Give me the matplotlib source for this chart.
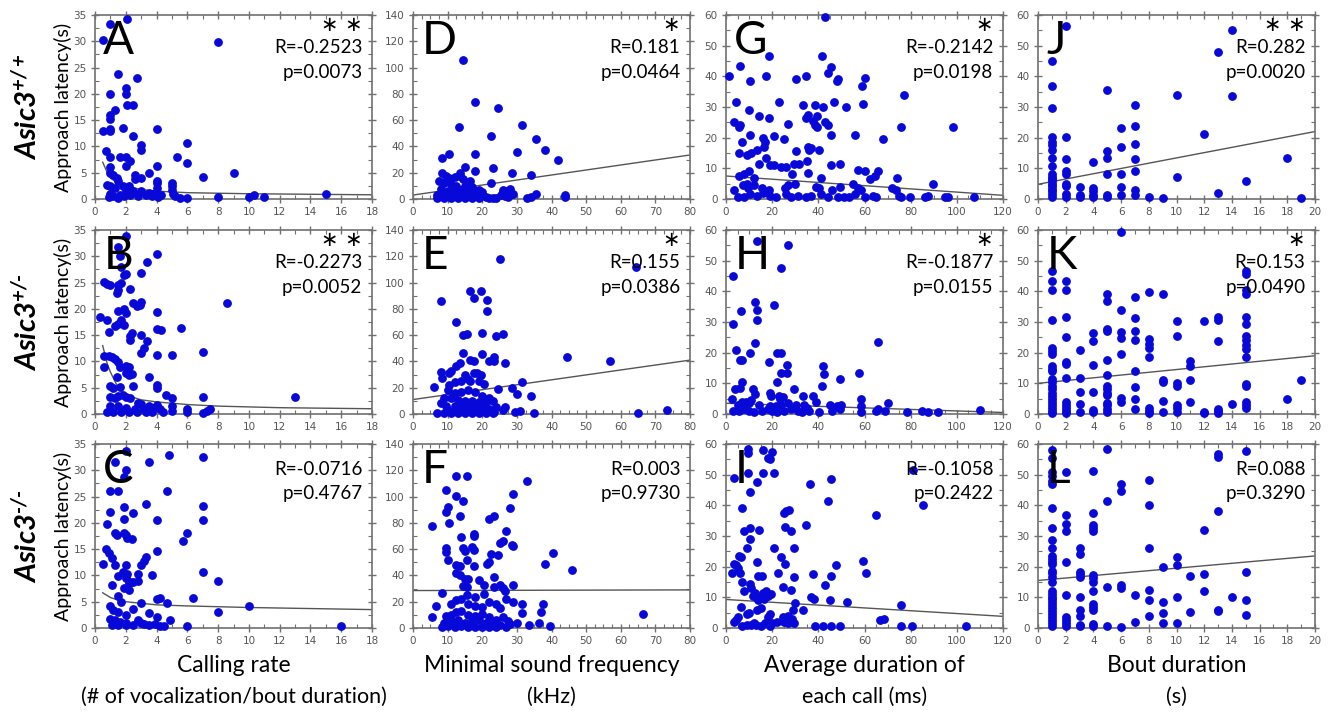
import matplotlib.pyplot as plt
from matplotlib.ticker import MultipleLocator, AutoMinorLocator

plt.rcParams['font.family'] = ['Lato', 'DejaVu Sans']
plt.rcParams['mathtext.fontset'] = 'custom'
plt.rcParams['mathtext.rm'] = 'Lato'
plt.rcParams['mathtext.it'] = 'Lato:italic'
plt.rcParams['mathtext.bf'] = 'Lato:bold'
plt.rcParams['mathtext.bfit'] = 'Lato:italic:bold'

# ---- data: (x, latency) pairs per panel ----
pts_A = [(0.5, 30.2), (2.1, 34.2), (1.0, 33.3), (8.0, 29.8), (1.5, 23.7), (2.7, 23.0), (1.0, 20), (2.0, 21.2),
         (2.0, 20), (2.1, 17.9), (2.5, 17.9), (1.3, 17.0), (1.0, 16.0), (1.0, 15.2), (0.5, 13), (1.0, 13.3),
         (1.0, 13.0), (1.8, 13.5), (2.5, 12), (3.0, 10.3), (3.0, 9.3), (0.7, 9.2), (4.0, 13.4), (6.0, 10.6),
         (6.0, 6.8), (5.3, 8.0), (4.0, 6.3), (7.0, 4.2), (9.0, 5.0), (1.0, 8), (1.6, 8), (2.0, 8), (1.0, 6),
         (2.0, 6.3), (2.3, 7.2), (2.6, 4.6), (2.6, 3.8), (3.0, 4.0), (3.5, 5.0), (1.0, 5), (1.2, 4.5), (1.4, 4),
         (1.5, 3.5), (0.8, 2.7), (1.0, 2.5), (1.3, 2.0), (1.8, 2.4), (2.2, 2.5), (2.0, 1.5), (2.5, 1.5),
         (3.0, 1.5), (1.0, 1.0), (1.2, 0.5), (1.6, 0.8), (1.9, 0.5), (2.3, 0.8), (2.8, 0.5), (3.3, 0.8),
         (3.7, 0.5), (4.0, 1.0), (4.0, 3.0), (4.0, 3.5), (4.0, 2.0), (4.3, 0.7), (4.1, 0.3), (5.0, 3.0),
         (5.0, 2.5), (5.0, 1.8), (5.1, 1.0), (5.2, 0.5), (5.5, 0.2), (6.0, 0.2), (8.0, 0.3), (10.0, 0.3),
         (10.3, 0.8), (11.0, 0.3), (15.0, 1.0), (0.9, 0.3), (1.5, 0.2), (3.5, 1.2), (3.8, 0.9), (2.2, 1.2),
         (2.4, 1.1)]
pts_B = [(2.0, 33.8), (1.5, 31.8), (1.6, 30), (1.7, 28), (4.0, 30.4), (3.4, 29.0), (3.0, 26.8), (1.9, 26.5),
         (2.0, 26.7), (0.6, 25.2), (0.8, 24.8), (1.0, 24.6), (1.5, 24.6), (1.7, 25), (1.5, 23.5), (1.4, 23),
         (2.3, 23.8), (2.5, 21.2), (3.0, 21.3), (2.9, 20.8), (2.7, 20.6), (1.9, 20), (2.0, 19.3), (1.5, 19.5),
         (0.3, 18.5), (0.8, 17.8), (1.7, 17.8), (1.9, 17), (1.5, 17.2), (1.3, 16.7), (4.0, 19.4), (4.0, 16.1),
         (4.3, 15.9), (5.6, 16.3), (0.9, 15.6), (2.4, 15.5), (2.3, 14.8), (2.3, 14.1), (3.0, 15.1), (3.4, 13.9),
         (3.2, 12.5), (3.0, 11.6), (4.0, 11.2), (5.0, 11.3), (7.0, 11.7), (8.6, 21.1), (0.6, 11.1), (0.9, 11),
         (1.1, 10.9), (1.3, 10.5), (1.5, 9.8), (0.6, 9.0), (1.6, 9.0), (2.0, 9.1), (2.2, 8.9), (2.0, 7.8),
         (2.2, 7.4), (2.4, 7.6), (1.4, 7), (1.0, 5.3), (1.2, 5.0), (1.6, 5.2), (2.5, 5.3), (3.5, 7.1), (4.0, 5.6),
         (4.0, 5.0), (4.6, 3.7), (5.0, 3.0), (7.0, 3.3), (13.0, 3.3), (1.0, 3.2), (1.3, 3.0), (1.5, 3.5),
         (1.8, 3.6), (2.0, 3.2), (2.3, 3.0), (2.8, 2.0), (3.0, 1.9), (3.5, 1.5), (1.0, 1.5), (1.5, 1.6),
         (2.0, 1.2), (2.6, 1.0), (3.2, 1.0), (3.8, 1.2), (4.0, 1.8), (4.2, 1.0), (5.0, 1.5), (5.0, 0.5),
         (6.0, 1.0), (6.0, 0.3), (7.0, 0.2), (7.3, 0.6), (7.5, 1.0), (0.8, 0.3), (1.2, 0.4), (1.7, 0.3),
         (2.2, 0.3), (2.7, 0.3), (3.3, 0.3), (3.7, 0.3), (4.4, 0.3)]
pts_C = [(2.0, 33.6), (4.8, 33.0), (7.0, 32.5), (3.5, 31.6), (1.3, 31.6), (1.0, 26), (1.5, 26), (1.9, 28.7),
         (2.0, 30), (4.7, 26), (3.3, 23.5), (7.0, 23.2), (1.0, 22.1), (1.9, 23), (2.5, 21.8), (1.9, 20.8),
         (4.0, 20.6), (7.0, 20.5), (0.8, 19.8), (1.3, 18), (1.4, 17.7), (1.9, 18), (2.0, 17.6), (2.1, 17.2),
         (2.4, 17), (5.7, 16.6), (6.0, 18), (0.7, 15), (0.9, 14.3), (1.1, 13.4), (0.5, 12.2), (1.3, 11.9),
         (2.0, 12), (3.3, 13.6), (3.2, 12.8), (3.0, 12), (4.0, 14.7), (1.8, 10.6), (2.1, 10.2), (2.8, 10.2),
         (3.7, 10.0), (7.0, 10.6), (1.1, 8.1), (1.5, 9.8), (2.0, 9.5), (2.3, 8.8), (2.2, 8.5), (2.5, 8.8),
         (2.8, 9.0), (8.0, 9.0), (1.9, 7.6), (2.2, 7.2), (1.5, 6.0), (1.7, 5.0), (3.0, 4.8), (4.0, 5.6),
         (4.2, 5.7), (4.7, 4.8), (6.4, 5.7), (10.0, 4.1), (8.0, 3.0), (1.0, 4.1), (1.2, 3.5), (1.5, 3.0),
         (2.0, 2.4), (2.5, 3.6), (3.5, 2.8), (4.0, 2.0), (4.9, 1.5), (1.0, 1.8), (1.3, 1.5), (1.6, 1.2),
         (2.0, 1.0), (2.8, 1.5), (3.0, 1.0), (3.2, 0.8), (3.5, 0.6), (3.9, 0.8), (4.2, 0.3), (4.5, 0.3),
         (6.0, 0.4), (16.0, 0.3), (1.1, 0.5), (1.5, 0.5), (2.0, 0.5), (2.5, 0.6)]
pts_D = [(14.5, 105.5), (18, 73.5), (24.5, 69.5), (13.3, 55), (31.5, 56.5), (22.5, 48), (35.5, 45.5), (38, 37.5),
         (30, 36), (42, 30), (10.5, 34.5), (8.5, 31), (18, 34), (23, 23.5), (15, 24.5), (18, 21.5), (28.5, 20),
         (34, 18.5), (22.5, 12), (8.5, 20), (9.5, 17.5), (10.5, 16), (12, 17), (13.5, 20), (13.5, 17.5),
         (14.5, 15.5), (16.5, 13.5), (7.5, 13.5), (9, 12), (11, 11.5), (12.5, 10), (15, 10), (17, 9), (19, 6.5),
         (8, 7.5), (10, 6), (12, 6), (14, 7), (16, 5), (18, 4), (20, 5), (7, 3), (9, 3), (11, 3), (13, 2.5),
         (15, 2.5), (17, 2), (19, 2.5), (21, 1.5), (22, 1), (23, 0.8), (24, 0.8), (7, 0.8), (9, 0.8), (11, 0.8),
         (13, 0.8), (15, 0.8), (17, 0.8), (19, 0.8), (26, 7), (27, 6), (28, 7.5), (26, 5), (27, 4), (28.5, 3.5),
         (25.5, 3), (26.5, 2), (27.5, 1.5), (29, 4), (33, 0.8), (34, 1.5), (35.5, 3.5), (44, 3), (44, 1.5)]
pts_E = [(25, 118), (64.5, 111.5), (8, 86), (16.5, 93.5), (19.5, 93.5), (17.5, 88), (21.5, 87), (21.5, 78),
         (12.5, 70), (14.5, 60), (15.5, 61), (20, 61.5), (24, 59.5), (26, 60.5), (14.5, 46.5), (20, 46),
         (16.5, 41), (17.5, 40.5), (22, 40), (23.5, 43), (23.5, 40), (26.5, 39), (44.5, 43), (57, 40),
         (13.5, 38.5), (12.5, 36.5), (8, 32), (8.5, 27.5), (10.5, 31), (11, 33), (15, 30), (17.5, 31),
         (18.5, 31), (19.5, 29.5), (16, 27), (12, 24), (10.5, 22), (14, 25), (16.5, 25), (19, 25), (20.5, 23),
         (24.5, 19), (28.5, 19.5), (30, 15.5), (31.5, 24.5), (34, 14), (6, 20.5), (10, 18), (12, 16), (14, 17),
         (16, 18), (18, 17), (20, 14), (22, 12), (23, 10), (9, 12), (11, 12), (13, 11), (15, 10), (17, 10),
         (19, 9), (21, 9), (8, 8), (9.5, 6), (12, 6), (14, 5), (16, 5), (18, 6), (20, 5), (22, 4), (24, 5),
         (26.5, 5), (26, 3), (10, 3), (12, 2), (14, 2.5), (16, 2), (18, 2), (20, 2), (22, 2), (23.5, 1.5),
         (7, 1), (9, 1), (11, 1), (13, 1), (15, 1), (17, 1), (19, 1), (21, 1), (23, 0.8), (29.5, 1.5), (31, 2),
         (35, 0.8), (65, 0.8), (73.5, 3)]
pts_F = [(12.5, 116), (15.5, 115.5), (33, 112), (9.5, 105), (12.5, 100.5), (14.5, 97), (29, 102), (10, 92),
         (9.5, 88.5), (13.5, 85), (22, 83), (23.5, 85.5), (28, 91.5), (5.5, 77.5), (10.5, 80), (27, 74),
         (17.5, 71.5), (17.5, 70), (14, 69.5), (26, 66.5), (25, 64.5), (28.5, 63), (29, 62.5), (9.5, 60.5),
         (9.5, 58), (14.5, 60.5), (15, 58.5), (17, 62), (17.5, 59), (22.5, 56), (24.5, 55.5), (40.5, 57),
         (10, 51.5), (15.5, 51.5), (22, 50.5), (21.5, 49), (38, 49), (46, 44.5), (12.5, 48), (13.5, 47),
         (17.5, 47.5), (12.5, 41.5), (13.5, 40), (15, 37.5), (16, 37), (19, 36.5), (23.5, 38.5), (20.5, 33),
         (14.5, 32), (15.5, 31.5), (23.5, 31), (25, 33), (26, 30.5), (29, 32.5), (26.5, 28), (8.5, 26.5),
         (15.5, 25), (18, 23.5), (20.5, 25.5), (6.5, 17), (11, 18), (12.5, 21), (14, 22), (16, 18), (18, 17),
         (20, 16), (22, 20), (24, 18), (25, 15), (27, 22), (29, 20), (31.5, 18.5), (31.5, 11.5), (37.5, 18.5),
         (37, 12), (5.5, 8.5), (9.5, 9), (11, 10), (12.5, 12), (14, 13), (16, 10), (18, 9), (20, 11), (22, 8),
         (24, 6), (26, 8), (27.5, 5.5), (9, 4), (11, 5), (13, 6), (15, 4), (17, 5), (19, 6), (21, 4), (23, 3),
         (25, 2.5), (28, 3), (30, 3.5), (33.5, 2.5), (36.5, 3.5), (39.5, 1.5), (8.5, 1), (10, 1.5), (12, 1),
         (14, 1.5), (16, 1), (18, 1), (20, 1), (22, 1), (24, 1), (27, 1), (66.5, 10.5)]
pts_G = [(43, 59.5), (18.5, 46.5), (41.5, 46.5), (6, 43.5), (45.5, 43), (44, 41), (1.5, 40), (17.5, 40),
         (34.5, 40), (10.5, 38.5), (30.5, 39), (48, 38.5), (48.5, 39), (60, 39.5), (59, 37), (77, 34),
         (4.5, 31.5), (23, 31.5), (33.5, 30.5), (38.5, 30.5), (42, 30), (47, 31.5), (52, 30), (59.5, 31),
         (10, 29), (14.5, 27), (18.5, 26.5), (34.5, 26.5), (35.5, 27.5), (39.5, 27), (37.5, 25.5), (38.5, 24),
         (39.5, 23.5), (43, 25), (44, 24), (3.5, 25), (5.5, 23.5), (6, 24), (27, 24.5), (76, 23.5), (98.5, 23.5),
         (10.5, 21), (16, 20), (21, 20.5), (17, 18.5), (7, 18.5), (25, 19.5), (45.5, 21), (56, 21), (68, 19.5),
         (16.5, 17), (35.5, 17), (36, 16), (37, 16.5), (40.5, 16), (5.5, 15), (9, 14.5), (11, 15), (13.5, 16),
         (17.5, 13.5), (30.5, 15.5), (35, 12.5), (14.5, 11.5), (19, 11), (21, 11), (24, 10.5), (26, 10.5),
         (29.5, 11.5), (31.5, 11.5), (35.5, 8.5), (45.5, 11), (49.5, 11.5), (57, 9.5), (60, 9), (66, 9), (8, 8),
         (10, 9), (5.5, 7.5), (12, 7), (28.5, 8), (41, 7), (64.5, 7.5), (62.5, 6.5), (74, 7), (9, 5), (12, 4.5),
         (7.5, 4.5), (9.5, 3.5), (15.5, 3.5), (18.5, 3), (25.5, 3.5), (27, 4.5), (30, 5), (39, 4), (40.5, 3.5),
         (46, 3), (49.5, 4), (55, 5), (57, 3.5), (58.5, 3), (72, 3.5), (73.5, 3), (89.5, 5), (3.5, 3), (5, 0.5),
         (8, 0.5), (10.5, 1.5), (13.5, 1), (16, 2), (19, 1), (21.5, 0.5), (26, 1.5), (28, 0.5), (31, 1),
         (34.5, 0.5), (37, 1), (41, 1.5), (44, 0.5), (48.5, 0.5), (51, 0.5), (53.5, 0.5), (56, 1.5), (60, 0.5),
         (63.5, 1), (65, 0.5), (75, 1), (76, 0.5), (79.5, 0.5), (86, 0.5), (87.5, 1), (95, 0.5), (96, 0.5),
         (107.5, 0.5)]
pts_H = [(27, 55), (13.5, 56.5), (24, 47.5), (3, 45), (12.5, 36.5), (13.5, 34), (21, 35.5), (6.5, 33.5),
         (13.5, 30.5), (3, 29.5), (12.5, 23), (66, 23.5), (4.5, 21), (6, 17.5), (7, 17.5), (10.5, 20),
         (18.5, 17), (22, 20), (24, 20), (26.5, 16), (24, 13.5), (26.5, 13.5), (42, 15.5), (42.5, 13),
         (57.5, 13.5), (49.5, 11.5), (41.5, 9), (22, 10.5), (29.5, 8), (7, 10.5), (4, 8), (6, 8.5), (11.5, 8),
         (12.5, 6.5), (19, 7), (19.5, 6), (23, 6), (23.5, 5), (24.5, 5.5), (33.5, 6), (37.5, 6), (39, 4),
         (58.5, 5), (2.5, 5), (5, 3), (7, 4), (8.5, 4), (10, 3.5), (11, 4.5), (14.5, 3), (19, 2.5), (21.5, 2.5),
         (24, 3), (27, 3.5), (30.5, 3), (34, 3), (35, 2), (45, 3), (48, 2.5), (50, 3), (58.5, 2.5), (66, 1.5),
         (70, 3.5), (3, 1), (5.5, 1), (8, 1.5), (10, 1), (12, 0.5), (15.5, 1), (18, 1.5), (20, 1), (22, 0.5),
         (25, 1), (28, 1.5), (31, 1), (33, 0.5), (36, 1), (40.5, 0.5), (46, 1), (49.5, 1.5), (58.5, 0.5),
         (65, 1), (69, 1), (78.5, 0.5), (85, 1), (87.5, 0.5), (92, 0.5), (110, 1.2)]
pts_I = [(9.5, 58.5), (9.5, 57), (16, 58), (20, 57.5), (18, 55.5), (19, 55), (9.5, 50.5), (3.5, 49), (16, 50.5),
         (21, 50.5), (13.5, 47.5), (10.5, 44.5), (45.5, 48.5), (81, 51.5), (36.5, 47), (44, 41.5), (85.5, 40),
         (7, 39), (25, 37.5), (26, 38), (27.5, 38.5), (25.5, 33), (34.5, 33.5), (65, 37), (8, 31.5),
         (10.5, 32.5), (14.5, 32), (28, 31.5), (10.5, 29), (9, 26), (21, 26), (29.5, 26), (5.5, 23.5),
         (6.5, 23), (24, 23), (3.5, 21), (4.5, 20.5), (5, 19.5), (6, 18), (2.5, 18), (25.5, 21), (13.5, 21.5),
         (22.5, 18), (37.5, 17.5), (45.5, 17), (47.5, 20.5), (59.5, 22), (60.5, 18), (14, 17), (15.5, 17),
         (29.5, 16.5), (10.5, 14.5), (11, 13), (7, 15), (12.5, 11.5), (13.5, 10), (16, 11.5), (17.5, 12),
         (18, 10.5), (19.5, 11), (8, 12), (11.5, 10.5), (14, 9), (16.5, 9.5), (24.5, 13.5), (28, 12.5), (37, 10),
         (38, 9.5), (43, 14), (45, 9), (52.5, 8.5), (30, 8), (29, 6), (33.5, 6), (13.5, 6), (15, 6.5), (6.5, 7),
         (9, 4.5), (10, 5), (19, 4.5), (18, 3.5), (24.5, 3.5), (26, 2.5), (27, 4), (28.5, 3), (76, 7.5),
         (3.5, 2), (4.5, 2.5), (5, 3.5), (12, 1.5), (20, 1.5), (22, 2), (25, 2), (66.5, 2.5), (68.5, 3),
         (7, 0.8), (9, 1), (11, 1), (13, 1), (15, 0.8), (17, 1.5), (19, 0.8), (27, 1.5), (29.5, 1.5),
         (38.5, 0.5), (42, 0.8), (45.5, 0.5), (49.5, 0.8), (76, 0.8), (80.5, 0.8), (104, 0.8)]
pts_J = [(2, 56.5), (14, 55), (13, 48), (1, 45), (1, 37), (5, 35.5), (10, 34), (14, 33.5), (1, 29.8), (7, 30.5),
         (7, 23.7), (6, 23.2), (12, 21.3), (1, 20.2), (2, 20.1), (1, 18.5), (1, 17.5), (7, 17.8), (6, 17),
         (1, 16), (5, 15.5), (5, 13.5), (1, 13.5), (2, 13.1), (7, 13.1), (18, 13.5), (4, 12), (1, 10.6), (2, 9),
         (2, 8.3), (7, 9.2), (5, 8.2), (6, 8.2), (1, 8), (1, 7.3), (1, 6.5), (1, 5.8), (1, 5), (1, 4.2), (1, 3.3),
         (1, 2.5), (1, 1.5), (1, 0.5), (2, 5), (2, 4.2), (2, 1.5), (2, 0.8), (3, 4), (3, 1.2), (3, 0.5), (4, 3.5),
         (4, 2.5), (4, 1.2), (4, 0.5), (5, 1.3), (5, 0.8), (6, 4), (6, 1.2), (7, 2.8), (7, 1.2), (8, 0.5),
         (9, 0.3), (10, 7.3), (13, 2), (15, 6), (19, 0.3)]
pts_K = [(6, 59.5), (1, 46.5), (1, 43.3), (2, 43.3), (1, 40.3), (2, 40.5), (15, 46.5), (15, 45.5), (15, 40.5),
         (15, 39), (5, 39), (5, 37), (7, 38.3), (8, 39.7), (9, 39.2), (6, 34), (2, 31.7), (7, 31.3), (1, 30.5),
         (10, 30.2), (12, 30.2), (13, 31.6), (13, 30.5), (15, 31.5), (15, 29.2), (5, 27.8), (5, 27), (4, 26.3),
         (6, 26.6), (6, 24.8), (7, 27), (7, 24), (2, 25.2), (4, 23.8), (8, 24.3), (8, 22.8), (8, 21.5),
         (10, 25.5), (13, 23.9), (15, 25.3), (15, 24), (15, 22.6), (15, 21.2), (1, 21.5), (1, 20.5), (1, 19.5),
         (3, 20.8), (6, 19.5), (8, 18.6), (15, 18.6), (11, 17.4), (11, 15.5), (5, 17.5), (2, 17), (2, 16.2),
         (4, 16.1), (1, 15.6), (1, 14.8), (1, 14), (7, 14), (2, 11.8), (3, 11.6), (5, 12.7), (1, 11.5),
         (1, 10.5), (9, 11), (9, 10.3), (10, 10), (10, 9), (11, 11), (15, 9.8), (15, 9), (19, 11.2), (1, 9),
         (1, 8), (1, 7), (3, 7.2), (4, 7.2), (5, 9.2), (5, 8), (5, 7), (5, 6.2), (7, 8.8), (1, 6), (1, 5), (1, 4),
         (1, 3), (1, 2), (1, 1), (1, 0.3), (2, 4), (2, 3), (2, 2), (2, 1), (2, 0.3), (3, 3.3), (3, 0.5), (4, 1.3),
         (4, 0.6), (5, 3.7), (5, 2.8), (5, 1.5), (5, 0.5), (6, 5.2), (6, 4), (7, 5), (7, 1.6), (8, 1.8), (8, 1),
         (8, 0.3), (9, 4.4), (9, 0.7), (10, 3), (10, 1.8), (10, 0.7), (11, 3.9), (12, 0.8), (12, 0.3), (13, 1.7),
         (13, 1), (13, 0.4), (14, 3.3), (15, 3.8), (15, 2.8), (15, 1.8), (18, 5)]
pts_L = [(1, 58.2), (5, 58.5), (15, 57.8), (13, 56.7), (13, 55.7), (1, 55.3), (1, 50.8), (2, 50.8), (4, 51.3),
         (1, 49.5), (1, 48), (1, 47), (8, 48.4), (6, 47), (6, 44.7), (5, 41.5), (8, 40), (13, 38.2), (1, 39),
         (2, 37), (4, 37.4), (2, 33.8), (2, 31.7), (4, 33.5), (4, 32.5), (4, 31.5), (1, 32.5), (12, 32),
         (1, 28.8), (1, 26), (3, 26), (8, 26), (3, 24.2), (1, 23.5), (1, 22.6), (1, 21.5), (1, 20.8), (2, 21.5),
         (10, 23.2), (10, 20.7), (9, 19.8), (1, 18.5), (1, 17.8), (3, 18.3), (3, 17.5), (4, 17.3), (1, 16.5),
         (3, 16.5), (4, 16.2), (11, 17), (12, 17.5), (15, 18.2), (1, 15), (4, 15), (5, 13.5), (6, 14),
         (6, 13.2), (1, 12), (1, 11), (4, 12), (8, 12.5), (12, 12.2), (1, 10), (1, 9.3), (1, 8.5), (2, 10.6),
         (3, 10.1), (7, 10.8), (10, 10), (14, 10), (8, 9), (9, 8.5), (15, 9), (1, 7.5), (1, 6.5), (1, 5.5),
         (1, 4.5), (1, 3.5), (1, 2.5), (1, 1.5), (1, 0.5), (2, 3.5), (2, 2.5), (2, 1.5), (2, 0.5), (3, 5.8),
         (3, 4), (3, 1), (3, 0.5), (4, 7.8), (4, 6.8), (4, 6), (4, 1.3), (4, 0.6), (5, 0.8), (6, 0.4), (7, 1.9),
         (8, 3.8), (9, 4.8), (9, 1.5), (10, 1.5), (11, 5.3), (13, 6), (13, 5.5), (15, 4.2)]

# fitted curves
fit_A = [(0.5, 7.0), (0.8, 5.0), (1.0, 4.0), (1.5, 3.0), (2.0, 2.5), (3.0, 1.8), (4.0, 1.5), (6.0, 1.2), (10, 1.0), (18, 0.8)]
fit_B = [(0.5, 13.0), (0.8, 9.5), (1.0, 8.0), (1.5, 5.0), (2.0, 3.6), (3.0, 2.7), (4.0, 2.3), (6.0, 1.8), (8.0, 1.5), (12, 1.2), (18, 1.0)]
fit_C = [(0.5, 6.7), (1.0, 5.8), (1.5, 5.3), (2.0, 5.0), (4.0, 4.4), (6.0, 4.2), (10, 3.9), (14, 3.7), (18, 3.5)]
fit_D = [(0, 3.0), (80, 33.5)]
fit_E = [(0, 11.0), (80, 41.0)]
fit_F = [(0, 28.5), (80, 29.0)]
fit_G = [(0, 7.5), (120, 1.2)]
fit_H = [(0, 3.5), (120, 0.5)]
fit_I = [(0, 9.3), (120, 3.8)]
fit_J = [(0, 4.8), (20, 22.0)]
fit_K = [(0, 10.0), (20, 19.0)]
fit_L = [(0, 15.5), (20, 23.5)]

R_vals = ['-0.2523', '-0.2273', '-0.0716', '0.181', '0.155', '0.003',
          '-0.2142', '-0.1877', '-0.1058', '0.282', '0.153', '0.088']
p_vals = ['0.0073', '0.0052', '0.4767', '0.0464', '0.0386', '0.9730',
          '0.0198', '0.0155', '0.2422', '0.0020', '0.0490', '0.3290']
stars = ['∗ ∗', '∗ ∗', '', '∗', '∗', '', '∗', '∗', '', '∗ ∗', '∗', '']
letters = ['A', 'B', 'C', 'D', 'E', 'F', 'G', 'H', 'I', 'J', 'K', 'L']

xlims = [18, 80, 120, 20]
xsteps = [2, 10, 20, 2]
ylims = [35, 140, 60, 60]
ysteps = [5, 20, 10, 10]
genotypes = ['+/+', '+/\u2010', '\u2010/\u2010']
xlab1 = ['Calling rate', 'Minimal sound frequency', 'Average duration of', 'Bout duration']
xlab2 = ['(# of vocalization/bout duration)', '(kHz)', 'each call (ms)', '(s)']

pts = [pts_A, pts_B, pts_C, pts_D, pts_E, pts_F, pts_G, pts_H, pts_I, pts_J, pts_K, pts_L]
fits = [fit_A, fit_B, fit_C, fit_D, fit_E, fit_F, fit_G, fit_H, fit_I, fit_J, fit_K, fit_L]

W, H = 1329, 714
fig = plt.figure(figsize=(W / 100, H / 100), dpi=100)

col_left = [95, 413, 726, 1038]
row_top = [15, 230, 444]
aw, ah = 277, 184
dot = '#0808d8'
grey = '#707070'

for c in range(4):
    for r in range(3):
        k = c * 3 + r
        ax = fig.add_axes([col_left[c] / W, 1 - (row_top[r] + ah) / H, aw / W, ah / H])
        xs, ys = zip(*pts[k])
        fx, fy = zip(*fits[k])
        ax.plot(fx, fy, color='#555555', lw=1.0, zorder=2)
        ax.plot(xs, ys, 'o', color=dot, ms=5.3, mec=dot, clip_on=False, zorder=3)
        ax.set_xlim(0, xlims[c])
        ax.set_ylim(0, ylims[c])
        ax.xaxis.set_major_locator(MultipleLocator(xsteps[c]))
        ax.yaxis.set_major_locator(MultipleLocator(ysteps[c]))
        ax.xaxis.set_minor_locator(AutoMinorLocator(2 if c in (0, 3) else 4))
        ax.yaxis.set_minor_locator(AutoMinorLocator(2))
        ax.tick_params(which='major', direction='inout', length=6, width=1, color=grey,
                       top=True, right=True, labelsize=7.5, labelcolor='#555555', pad=3)
        ax.tick_params(which='minor', direction='in', length=3, width=0.8, color=grey, top=True, right=True)
        for s in ax.spines.values():
            s.set_color(grey)
            s.set_linewidth(1.2)
        for lab in ax.get_xticklabels() + ax.get_yticklabels():
            lab.set_family('DejaVu Sans')

        ax.text(0.03, 0.975, letters[k], transform=ax.transAxes, ha='left', va='top',
                fontsize=33, color='black', zorder=4)
        if stars[k]:
            ax.text(0.965, 0.945, stars[k], transform=ax.transAxes, ha='right', va='center',
                    fontsize=15, family='DejaVu Sans', zorder=4)
            ry, py = 0.825, 0.69
        else:
            ry, py = 0.86, 0.73
        ax.text(0.965, ry, 'R=' + R_vals[k], transform=ax.transAxes, ha='right', va='center',
                fontsize=13.5, zorder=4)
        ax.text(0.965, py, 'p=' + p_vals[k], transform=ax.transAxes, ha='right', va='center',
                fontsize=13.5, zorder=4)

    cx = (col_left[c] + aw / 2) / W
    fig.text(cx, 1 - 665 / H, xlab1[c], ha='center', va='center', fontsize=16.5)
    fig.text(cx, 1 - 697 / H, xlab2[c], ha='center', va='center', fontsize=15.5)

for r in range(3):
    cy = 1 - (row_top[r] + ah / 2) / H
    fig.text(63 / W, cy, 'Approach latency(s)', rotation=90, ha='center', va='center', fontsize=14)
    fig.text(27 / W, cy, r'$\mathbfit{Asic3}^{\mathbfit{' + genotypes[r] + '}}$', rotation=90,
             ha='center', va='center', fontsize=21)

fig.savefig('out.png', dpi=100)
